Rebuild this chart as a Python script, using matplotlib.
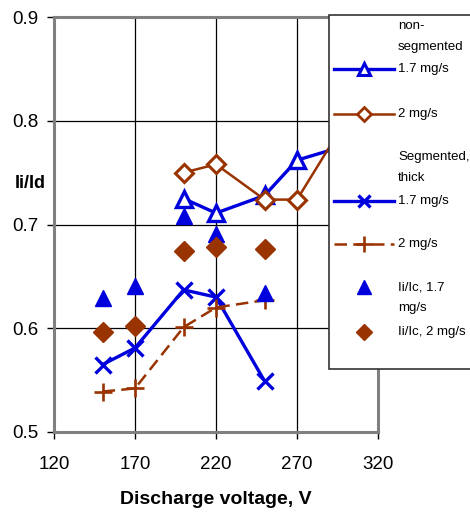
import matplotlib
matplotlib.use('Agg')
import matplotlib.pyplot as plt
from matplotlib.lines import Line2D
from matplotlib.patches import Rectangle

plt.rcParams['font.family'] = ['Liberation Sans', 'DejaVu Sans']

# data
seg_v = [150, 170, 200, 220, 250]
nonseg_v = [200, 220, 250, 270, 300]
nonseg_17 = [0.725, 0.711, 0.728, 0.762, 0.776]
nonseg_2 = [0.750, 0.758, 0.724, 0.724, 0.800]
seg_17 = [0.565, 0.581, 0.637, 0.630, 0.549]
seg_2 = [0.539, 0.542, 0.601, 0.620, 0.627]
ic_17 = [0.629, 0.641, 0.708, 0.691, 0.634]
ic_2 = [0.596, 0.602, 0.674, 0.678, 0.676]
xticks = [120, 170, 220, 270, 320]
yticks = [0.5, 0.6, 0.7, 0.8, 0.9]

blue = '#0000DD'
brown = '#993300'

fig = plt.figure(figsize=(4.7, 5.12), dpi=100)
ax = fig.add_axes([54/470, 1-432/512, 324/470, 415/512])

ax.plot(nonseg_v, nonseg_17, color=blue, lw=2.4, marker='^', ms=12,
        mfc='white', mec=blue, mew=2.4)
ax.plot(nonseg_v, nonseg_2, color=brown, lw=1.8, marker='D', ms=9,
        mfc='white', mec=brown, mew=2.2)
ax.plot(seg_v, seg_17, color=blue, lw=2.4, marker='x', ms=11, mew=2.4)
ax.plot(seg_v, seg_2, color=brown, lw=1.8, ls=(0, (5, 2.5)), marker='+',
        ms=13, mew=1.9)
ax.plot(seg_v, ic_17, ls='none', marker='^', ms=12, color=blue)
ax.plot(seg_v, ic_2, ls='none', marker='D', ms=10, color=brown)

ax.set_xlim(120, 320)
ax.set_ylim(0.5, 0.9)
ax.set_xticks(xticks)
ax.set_yticks(yticks)
ax.set_yticklabels(['0.5', '0.6', '0.7', '0.8', '0.9'])
ax.grid(True, color='black', lw=0.9)
ax.set_axisbelow(True)
for s in ax.spines.values():
    s.set_color('#808080')
    s.set_linewidth(2.2)
ax.tick_params(axis='x', length=5, width=1, pad=12, labelsize=13.5)
ax.tick_params(axis='y', length=5, width=1, pad=6, labelsize=13.5)

ax.set_xlabel('Discharge voltage, V', fontsize=14, fontweight='bold', labelpad=13)
ax.set_ylabel('Ii/Id', fontsize=13, fontweight='bold', rotation=0,
              ha='center', va='center')
ax.yaxis.set_label_coords(-0.072, 0.6)

# legend box, built by hand so the handles sit on the last text line
W, H = 470, 512
def fx(px):
    return px / W
def fy(py):
    return 1 - py / H

fig.patches.append(Rectangle((fx(329), fy(369)), fx(200), fy(15) - fy(369),
                             transform=fig.transFigure, facecolor='white',
                             edgecolor='#333333', lw=1.2, zorder=5))

leg_font = 9.5
tx = fx(398)
for txt, py in [('non-', 26), ('segmented', 47), ('1.7 mg/s', 69),
                ('2 mg/s', 114), ('Segmented,', 157), ('thick', 178),
                ('1.7 mg/s', 201), ('2 mg/s', 244), ('Ii/Ic, 1.7', 287),
                ('mg/s', 308), ('Ii/Ic, 2 mg/s', 332)]:
    fig.text(tx, fy(py), txt, fontsize=leg_font, va='center', ha='left', zorder=7)

handles = [
    (69, dict(color=blue, lw=2.4, marker='^', ms=9, mfc='white', mec=blue, mew=2.2)),
    (114, dict(color=brown, lw=1.8, marker='D', ms=7, mfc='white', mec=brown, mew=2)),
    (201, dict(color=blue, lw=2.4, marker='x', ms=9, mew=2.4)),
    (244, dict(color=brown, lw=1.8, ls=(0, (5, 2.5)), marker='+', ms=11, mew=1.9)),
]
for py, kw in handles:
    fig.add_artist(Line2D([fx(334), fx(394)], [fy(py), fy(py)],
                          transform=fig.transFigure, zorder=6,
                          **{k: v for k, v in kw.items() if k not in ('marker', 'ms', 'mfc', 'mec', 'mew')}))
    mk = {k: v for k, v in kw.items() if k in ('marker', 'ms', 'mfc', 'mec', 'mew', 'color')}
    fig.add_artist(Line2D([fx(364)], [fy(py)], transform=fig.transFigure,
                          ls='none', zorder=7, **mk))
fig.add_artist(Line2D([fx(364)], [fy(287)], transform=fig.transFigure, ls='none',
                      marker='^', ms=10, color=blue, zorder=7))
fig.add_artist(Line2D([fx(364)], [fy(332)], transform=fig.transFigure, ls='none',
                      marker='D', ms=8, color=brown, zorder=7))

fig.savefig('out.png', dpi=100)
